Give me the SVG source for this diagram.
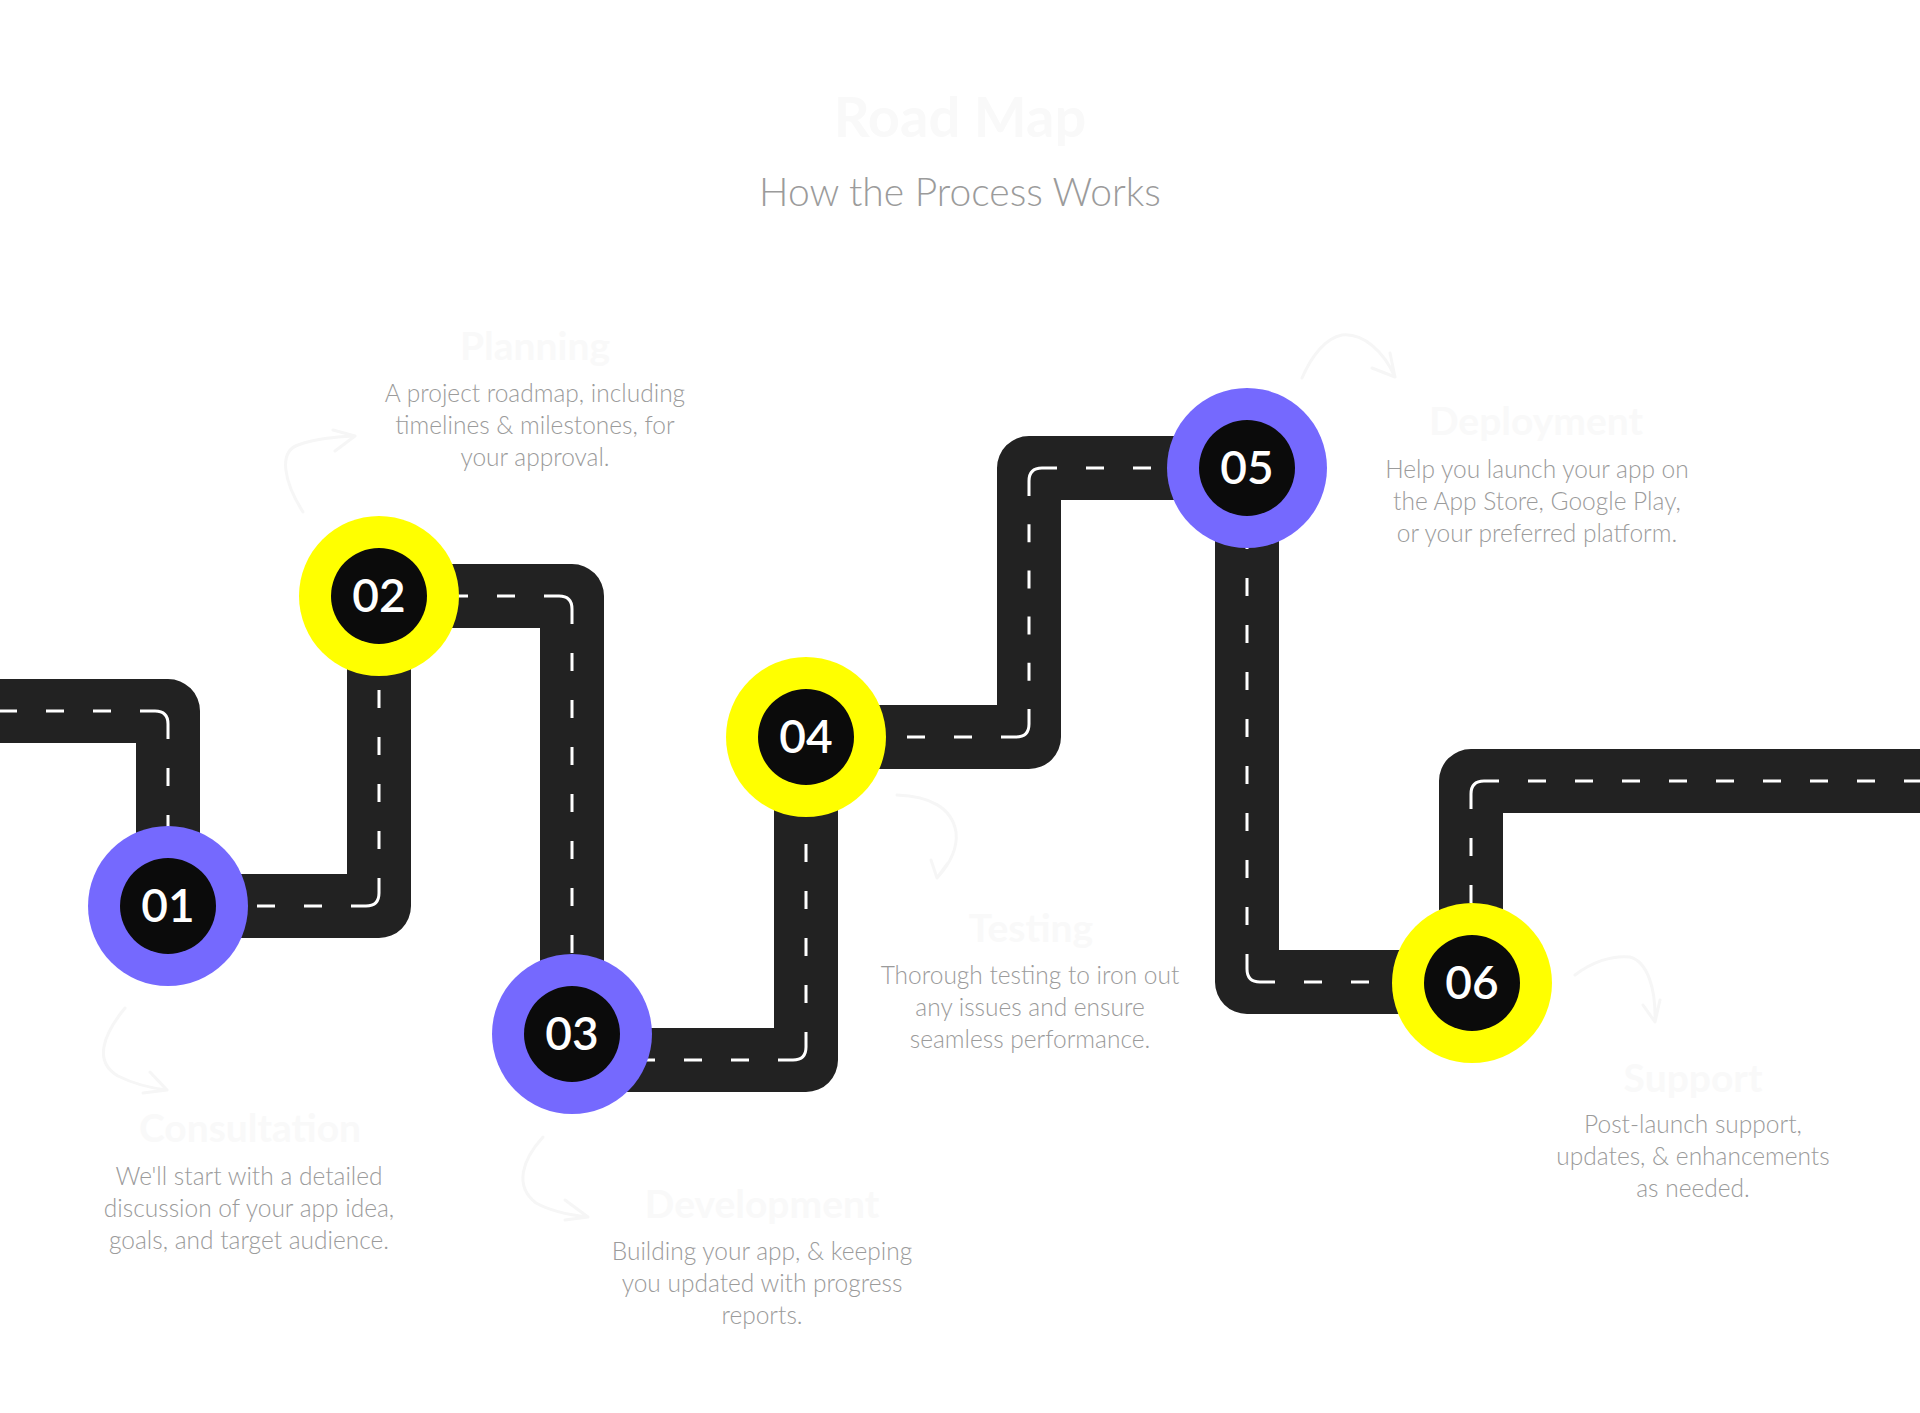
<svg xmlns="http://www.w3.org/2000/svg" width="1920" height="1413" viewBox="0 0 1920 1413">
  <style>
    .road { fill: none; stroke: #222222; stroke-width: 64; stroke-linejoin: round; }
    .lane { fill: none; stroke: #ffffff; stroke-width: 3; stroke-dasharray: 18 29; stroke-dashoffset: 18; }
    .bend { fill: none; stroke: #ffffff; stroke-width: 3; }
    .ring-purple { fill: #7569fe; }
    .ring-yellow { fill: #ffff00; }
    .core { fill: #0b0b0b; }
    .num { font-family: "Lato", "Liberation Sans", sans-serif; font-size: 46px; font-weight: 600; fill: #ffffff; text-anchor: middle; }
    .title { font-family: "Lato", "Liberation Sans", sans-serif; font-size: 56px; font-weight: 700; fill: #f9f9f9; text-anchor: middle; }
    .subtitle { font-family: "Lato", "Liberation Sans", sans-serif; font-size: 39px; font-weight: 300; fill: #9b9b9b; text-anchor: middle; }
    .head { font-family: "Lato", "Liberation Sans", sans-serif; font-size: 39px; font-weight: 700; fill: #f9f9f9; text-anchor: middle; }
    .body { font-family: "Lato", "Liberation Sans", sans-serif; font-size: 24.5px; font-weight: 300; fill: #9b9b9b; text-anchor: middle; }
    .hint { fill: none; stroke: #f6f6f6; stroke-width: 3; stroke-linecap: round; stroke-linejoin: round; }
  </style>

  <rect width="1920" height="1413" fill="#ffffff"/>

  <!-- heading -->
  <text class="title" x="960" y="137">Road Map</text>
  <text class="subtitle" x="960" y="206">How the Process Works</text>

  <!-- road with lane markings -->
  <g id="connectors">
    <polyline class="road" points="-10,711 168,711 168,906 379,906 379,596 572,596 572,1060 806,1060 806,737 1029,737 1029,468 1247,468 1247,982 1471,982 1471,781 1930,781"/>

    <!-- straight lane dashes -->
    <path class="lane" d="M140,711 L-10,711"/>
    <path class="lane" d="M168,739 L168,906"/>
    <path class="lane" d="M351,906 L168,906"/>
    <path class="lane" d="M379,878 L379,596"/>
    <path class="lane" d="M544,596 L379,596"/>
    <path class="lane" d="M572,624 L572,1060"/>
    <path class="lane" d="M778,1060 L572,1060"/>
    <path class="lane" d="M806,1032 L806,737"/>
    <path class="lane" d="M1001,737 L806,737"/>
    <path class="lane" d="M1029,496 L1029,709" style="stroke-dasharray: 18 28.2"/>
    <path class="lane" d="M1057,468 L1247,468"/>
    <path class="lane" d="M1247,954 L1247,468"/>
    <path class="lane" d="M1275,982 L1471,982"/>
    <path class="lane" d="M1471,809 L1471,982"/>
    <path class="lane" d="M1499,781 L1930,781"/>

    <!-- lane markings through the bends -->
    <path class="bend" d="M140,711 L155,711 Q168,711 168,724 L168,739"/>
    <path class="bend" d="M351,906 L366,906 Q379,906 379,893 L379,878"/>
    <path class="bend" d="M544,596 L559,596 Q572,596 572,609 L572,624"/>
    <path class="bend" d="M778,1060 L793,1060 Q806,1060 806,1047 L806,1032"/>
    <path class="bend" d="M1001,737 L1016,737 Q1029,737 1029,724 L1029,709"/>
    <path class="bend" d="M1029,496 L1029,481 Q1029,468 1042,468 L1057,468"/>
    <path class="bend" d="M1247,954 L1247,969 Q1247,982 1260,982 L1275,982"/>
    <path class="bend" d="M1471,809 L1471,794 Q1471,781 1484,781 L1499,781"/>

    <!-- faint pointer arrows -->
    <path class="hint" d="M303,512 C284,482 278,452 298,445 C318,438 338,437 355,436 M333,430 L355,436 L335,451"/>
    <path class="hint" d="M125,1008 C102,1036 94,1062 118,1076 C134,1084 150,1088 167,1090 M150,1072 L167,1090 L143,1093"/>
    <path class="hint" d="M543,1137 C522,1160 514,1186 536,1203 C552,1212 570,1215 588,1217 M565,1200 L588,1217 L565,1220"/>
    <path class="hint" d="M897,795 C930,796 952,808 956,832 C958,850 948,866 937,878 M931,860 L937,878 L948,863"/>
    <path class="hint" d="M1302,378 C1312,355 1326,338 1342,335 C1364,333 1384,352 1395,377 M1372,368 L1395,377 L1390,353"/>
    <path class="hint" d="M1575,975 C1592,962 1612,955 1630,957 C1648,962 1656,990 1655,1022 M1643,1005 L1655,1022 L1660,1000"/>
  </g>

  <!-- step 01 -->
  <g id="step-01">
    <circle class="ring-purple" cx="168" cy="906" r="80"/>
    <circle class="core" cx="168" cy="906" r="48"/>
    <text class="num" x="168" y="922">01</text>
    <text class="head" x="250" y="1142">Consultation</text>
    <text class="body" x="249" y="1185">We'll start with a detailed</text>
    <text class="body" x="249" y="1217">discussion of your app idea,</text>
    <text class="body" x="249" y="1249">goals, and target audience.</text>
  </g>

  <!-- step 02 -->
  <g id="step-02">
    <circle class="ring-yellow" cx="379" cy="596" r="80"/>
    <circle class="core" cx="379" cy="596" r="48"/>
    <text class="num" x="379" y="612">02</text>
    <text class="head" x="535" y="360">Planning</text>
    <text class="body" x="535" y="402">A project roadmap, including</text>
    <text class="body" x="535" y="434">timelines &amp; milestones, for</text>
    <text class="body" x="535" y="466">your approval.</text>
  </g>

  <!-- step 03 -->
  <g id="step-03">
    <circle class="ring-purple" cx="572" cy="1034" r="80"/>
    <circle class="core" cx="572" cy="1034" r="48"/>
    <text class="num" x="572" y="1050">03</text>
    <text class="head" x="762" y="1218">Development</text>
    <text class="body" x="762" y="1260">Building your app, &amp; keeping</text>
    <text class="body" x="762" y="1292">you updated with progress</text>
    <text class="body" x="762" y="1324">reports.</text>
  </g>

  <!-- step 04 -->
  <g id="step-04">
    <circle class="ring-yellow" cx="806" cy="737" r="80"/>
    <circle class="core" cx="806" cy="737" r="48"/>
    <text class="num" x="806" y="753">04</text>
    <text class="head" x="1031" y="942">Testing</text>
    <text class="body" x="1030" y="984">Thorough testing to iron out</text>
    <text class="body" x="1030" y="1016">any issues and ensure</text>
    <text class="body" x="1030" y="1048">seamless performance.</text>
  </g>

  <!-- step 05 -->
  <g id="step-05">
    <circle class="ring-purple" cx="1247" cy="468" r="80"/>
    <circle class="core" cx="1247" cy="468" r="48"/>
    <text class="num" x="1247" y="484">05</text>
    <text class="head" x="1536" y="435">Deployment</text>
    <text class="body" x="1537" y="478">Help you launch your app on</text>
    <text class="body" x="1537" y="510">the App Store, Google Play,</text>
    <text class="body" x="1537" y="542">or your preferred platform.</text>
  </g>

  <!-- step 06 -->
  <g id="step-06">
    <circle class="ring-yellow" cx="1472" cy="983" r="80"/>
    <circle class="core" cx="1472" cy="983" r="48"/>
    <text class="num" x="1472" y="999">06</text>
    <text class="head" x="1693" y="1092">Support</text>
    <text class="body" x="1693" y="1133">Post-launch support,</text>
    <text class="body" x="1693" y="1165">updates, &amp; enhancements</text>
    <text class="body" x="1693" y="1197">as needed.</text>
  </g>
</svg>
